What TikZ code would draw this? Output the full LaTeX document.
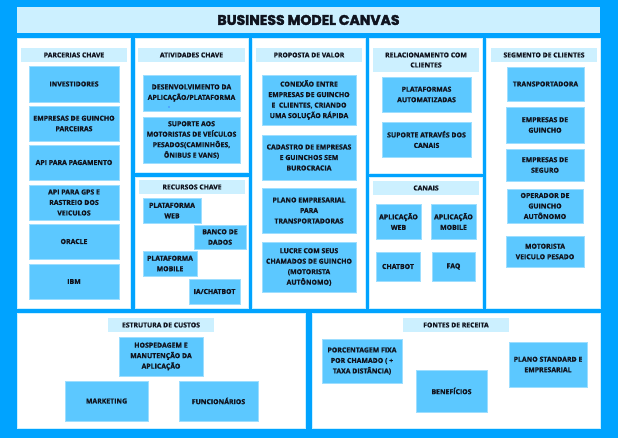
\documentclass[tikz,border=0pt]{standalone}
\usepackage{fontspec}
\setmainfont{Open Sans}[BoldFeatures={FakeBold=1}]
\newfontfamily\titlefont{Poppins}[BoldFeatures={FakeBold=2.6}]
\definecolor{bgblue}{HTML}{00A3FF}
\definecolor{hdr}{HTML}{CCF0FF}
\definecolor{cell}{HTML}{5CC8FF}
\definecolor{ink}{HTML}{10141F}
\definecolor{dotblue}{HTML}{2040FF}
\newcommand\rbox[7]{\node[#1, minimum width={(#4)-(#2)}, minimum height={(#5)-(#3)}] (#6) at ({((#2)+(#4))/2},{((#3)+(#5))/2}) {#7};}
\tikzset{
  panel/.style={fill=white, draw=hdr, line width=0.8pt, inner sep=0pt},
  titlebar/.style={fill=hdr, draw=none, inner sep=0pt, font=\titlefont\fontsize{14}{16}\selectfont\bfseries, text=ink},
  hdrbox/.style={fill=hdr, draw=none, inner sep=0pt, align=center, font=\fontsize{6.8}{10}\selectfont\bfseries, text=ink},
  cbox/.style={fill=cell, draw=cell!60!white, line width=0.6pt, inner sep=0pt, align=center, font=\fontsize{6.9}{10.5}\selectfont\bfseries, text=ink},
}
\begin{document}
\begin{tikzpicture}[x=1pt,y=-1pt]
\fill[bgblue] (0,0) rectangle (618,438);
\useasboundingbox (0,0) rectangle (618,438);
% title
\rbox{titlebar}{17}{7}{600}{33}{title}{BUSINESS MODEL CANVAS}
% panels
\rbox{panel}{17}{38}{130}{308}{pParc}{}
\rbox{panel}{135}{38}{248}{172}{pAtiv}{}
\rbox{panel}{135}{177}{248}{308}{pRec}{}
\rbox{panel}{252}{38}{365}{308}{pProp}{}
\rbox{panel}{369}{38}{482}{173}{pRel}{}
\rbox{panel}{369}{177}{482}{308}{pCan}{}
\rbox{panel}{486}{38}{600}{308}{pSeg}{}
\rbox{panel}{17}{313}{305}{428}{pCust}{}
\rbox{panel}{312}{313}{600}{428}{pRec2}{}
% headers
\rbox{hdrbox}{21}{48}{127}{62}{hParc}{PARCERIAS CHAVE}
\rbox{hdrbox}{138}{48}{245}{62}{hAtiv}{ATIVIDADES CHAVE}
\rbox{hdrbox}{139}{180}{245}{194}{hRec}{RECURSOS CHAVE}
\rbox{hdrbox}{256}{48}{362}{62}{hProp}{PROPOSTA DE VALOR}
\rbox{hdrbox}{373}{48}{479}{72}{hRel}{RELACIONAMENTO COM\\CLIENTES}
\rbox{hdrbox}{373}{181}{479}{195}{hCan}{CANAIS}
\rbox{hdrbox}{491}{48}{597}{62}{hSeg}{SEGMENTO DE CLIENTES}
\rbox{hdrbox}{108}{318}{214}{332}{hCust}{ESTRUTURA DE CUSTOS}
\rbox{hdrbox}{403}{318}{509}{332}{hFont}{FONTES DE RECEITA}
% parcerias chave
\rbox{cbox}{29}{66}{119}{102}{inv}{INVESTIDORES}
\rbox{cbox}{29}{106}{119}{141}{emp}{EMPRESAS DE GUINCHO\\PARCEIRAS}
\rbox{cbox}{29}{145}{119}{180}{apipag}{API PARA PAGAMENTO}
\rbox{cbox}{29}{185}{119}{220}{apigps}{API PARA GPS E\\RASTREIO DOS\\VEICULOS}
\rbox{cbox}{29}{224}{119}{259}{oracle}{ORACLE}
\rbox{cbox}{29}{264}{119}{299}{ibm}{IBM}
% atividades chave
\rbox{cbox}{143}{75}{240}{111}{desenv}{DESENVOLVIMENTO DA\\APLICAÇÃO/PLATAFORMA}
\fill[dotblue] (169,107) circle (0.7);
\rbox{cbox}{143}{117}{240}{163}{suporte}{SUPORTE AOS\\MOTORISTAS DE VEÍCULOS\\PESADOS(CAMINHÕES,\\ÔNIBUS E VANS)}
% recursos chave
\rbox{cbox}{143}{198}{201}{223}{pweb}{PLATAFORMA\\WEB}
\rbox{cbox}{194}{225}{246}{249}{banco}{BANCO DE\\DADOS}
\rbox{cbox}{143}{251}{197}{276}{pmob}{PLATAFORMA\\MOBILE}
\rbox{cbox}{189}{279}{240}{304}{ia}{IA/CHATBOT}
% proposta de valor
\rbox{cbox}{262}{75}{356}{125}{conex}{CONEXÃO ENTRE\\EMPRESAS DE GUINCHO\\E\ \ CLIENTES, CRIANDO\\UMA SOLUÇÃO RÁPIDA}
\rbox{cbox}{262}{135}{356}{180}{cadastro}{CADASTRO DE EMPRESAS\\E GUINCHOS SEM\\BUROCRACIA}
\rbox{cbox}{262}{188}{356}{233}{plano}{PLANO EMPRESARIAL\\PARA\\TRANSPORTADORAS}
\rbox{cbox}{262}{242}{356}{292}{lucre}{LUCRE COM SEUS\\CHAMADOS DE GUINCHO\\(MOTORISTA\\AUTÔNOMO)}
% relacionamento
\rbox{cbox}{382}{77}{471}{112}{plataut}{PLATAFORMAS\\AUTOMATIZADAS}
\rbox{cbox}{382}{122}{471}{157}{supcan}{SUPORTE ATRAVÉS DOS\\CANAIS}
% canais
\rbox{cbox}{376}{204}{421}{239}{appweb}{APLICAÇÃO\\WEB}
\rbox{cbox}{431}{204}{476}{239}{appmob}{APLICAÇÃO\\MOBILE}
\rbox{cbox}{376}{252}{420}{281}{chatbot}{CHATBOT}
\rbox{cbox}{432}{252}{475}{281}{faq}{FAQ}
% segmento
\rbox{cbox}{507}{67}{584}{101}{transp}{TRANSPORTADORA}
\rbox{cbox}{506}{107}{584}{143}{empg}{EMPRESAS DE\\GUINCHO}
\rbox{cbox}{506}{149}{584}{181}{emps}{EMPRESAS DE\\SEGURO}
\rbox{cbox}{507}{189}{583}{223}{oper}{OPERADOR DE\\GUINCHO\\AUTÔNOMO}
\rbox{cbox}{506}{236}{584}{267}{mot}{MOTORISTA\\VEICULO PESADO}
% estrutura de custos
\rbox{cbox}{119}{337}{203}{376}{hosp}{HOSPEDAGEM E\\MANUTENÇÃO DA\\APLICAÇÃO}
\rbox{cbox}{65}{381}{148}{421}{mkt}{MARKETING}
\rbox{cbox}{179}{381}{258}{421}{func}{FUNCIONÁRIOS}
% fontes de receita
\rbox{cbox}{322}{339}{402}{383}{porc}{PORCENTAGEM FIXA\\POR CHAMADO ( +\\TAXA DISTÂNCIA)}
\rbox{cbox}{416}{370}{487}{412}{benef}{BENEFÍCIOS}
\rbox{cbox}{509}{342}{587}{387}{planost}{PLANO STANDARD E\\EMPRESARIAL}
\end{tikzpicture}
\end{document}
